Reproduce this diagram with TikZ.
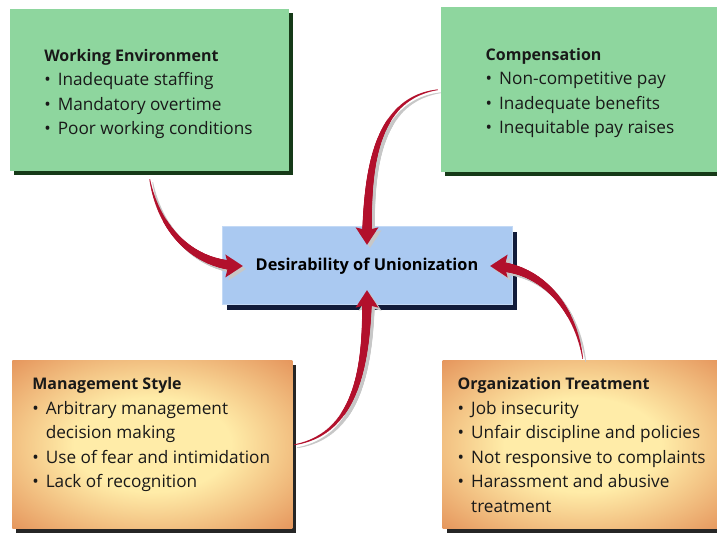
\documentclass[tikz,border=0pt]{standalone}
\usepackage{fontspec}
\setmainfont{Open Sans}
\usetikzlibrary{positioning,shadows,arrows.meta,decorations.markings}
\definecolor{leafgreen}{RGB}{142,214,158}
\definecolor{darkgreen}{RGB}{22,58,24}
\definecolor{unionblue}{RGB}{170,201,241}
\definecolor{darknavy}{RGB}{18,28,58}
\definecolor{cream}{RGB}{255,236,168}
\definecolor{burnt}{RGB}{212,92,42}
\definecolor{arrowred}{RGB}{178,16,44}
\pgfdeclareradialshading{glow}{\pgfpoint{0bp}{0bp}}{color(0bp)=(cream); color(14bp)=(cream); color(50bp)=(burnt)}
\newcommand{\bul}{\makebox[13.5pt][l]{\textbullet}}
\tikzstyle{greenbox}=[rectangle,fill=leafgreen,drop shadow={shadow xshift=4pt,shadow yshift=-4pt,fill=darkgreen,opacity=1}]
\tikzstyle{orangebox}=[rectangle,shading=glow,drop shadow={shadow xshift=4pt,shadow yshift=-4pt,fill=black!85,opacity=1}]
\tikzstyle{unionbox}=[rectangle,fill=unionblue,draw=unionblue!70!white,line width=1pt,minimum width=290pt,minimum height=78pt,font=\bfseries\fontsize{16.3}{19}\selectfont,drop shadow={shadow xshift=5pt,shadow yshift=-5pt,fill=darknavy,opacity=1}]
\tikzstyle{boxtext}=[inner sep=0pt,align=left,text=black!90,font=\fontsize{17.2}{24.5}\selectfont]
\newcommand{\boxhead}[1]{{\bfseries\fontsize{16}{24.5}\selectfont #1}}

\begin{document}
\begin{tikzpicture}[x=1pt,y=1pt]
\useasboundingbox (0,0) rectangle (717,533);
\node (center) [unionbox] at (367,267) {Desirability of Unionization};
\node (we) [greenbox, minimum width=279pt, minimum height=162pt, above left=55pt and -68pt of center] {};
\node (comp) [greenbox, minimum width=285pt, minimum height=165pt, above right=54pt and -72pt of center] {};
\node (mgmt) [orangebox, minimum width=280pt, minimum height=168pt, below left=55pt and -71pt of center] {};
\node (org) [orangebox, minimum width=280pt, minimum height=168pt, below right=55pt and -70pt of center] {};
% box texts
\node (wetxt) [boxtext, below right=40pt and 34pt of we.north west] {\boxhead{Working Environment}\\
\bul Inadequate staffing\\ \bul Mandatory overtime\\ \bul Poor working conditions};
\node (comptxt) [boxtext, below right=41pt and 45pt of comp.north west] {\boxhead{Compensation}\\
\bul Non-competitive pay\\ \bul Inadequate benefits\\ \bul Inequitable pay raises};
\node (mgmttxt) [boxtext, below right=17pt and 20pt of mgmt.north west] {\boxhead{Management Style}\\
\bul Arbitrary management\\ \hspace*{13.5pt}decision making\\ \bul Use of fear and intimidation\\ \bul Lack of recognition};
\node (orgtxt) [boxtext, below right=17pt and 15pt of org.north west] {\boxhead{Organization Treatment}\\
\bul Job insecurity\\ \bul Unfair discipline and policies\\ \bul Not responsive to complaints\\ \bul Harassment and abusive\\ \hspace*{13.5pt}treatment};
% arrow ends
\coordinate (wetail) at ([yshift=-8pt]we.south);
\coordinate (wetip) at ([xshift=21pt]center.west);
\coordinate (comptail) at ([xshift=-3pt]comp.west);
\coordinate (comptip) at ([yshift=-18pt]center.north);
\coordinate (mgmttail) at ([xshift=2pt]mgmt.east);
\coordinate (mgmttip) at ([yshift=15pt]center.south);
\coordinate (orgtail) at ([yshift=2pt]org.north);
\coordinate (orgtip) at ([xshift=-22pt]center.east);
% curved red arrows into the center box, thin tail growing to the head
\foreach \s/\e/\o/\i in {wetail/wetip/-80/180, comptail/comptip/188/90, mgmttail/mgmttip/10/-90, orgtail/orgtip/98/0}
{
  \foreach \c/\d in {black!22/3,arrowred/0} {
    \begin{scope}[transform canvas={shift={(\d pt,-\d pt)}}]
    \path [decoration={markings,
      mark=between positions 0 and -14pt step 0.7pt with {\pgfmathsetmacro\r{0.5+4.7*\pgfkeysvalueof{/pgf/decoration/mark info/distance from start}/\pgfdecoratedpathlength}\fill [\c] (0,0) circle (\r pt);}}, decorate]
      (\s) to[out=\o,in=\i] (\e);
    \path [decoration={markings,
      mark=at position 0.999 with {\fill [\c] (0.5pt,0) -- (-17pt,11.5pt) -- (-14pt,0) -- (-17pt,-11.5pt) -- cycle;}}, decorate]
      (\s) to[out=\o,in=\i] (\e);
    \end{scope}
  }
}
\end{tikzpicture}
\end{document}
